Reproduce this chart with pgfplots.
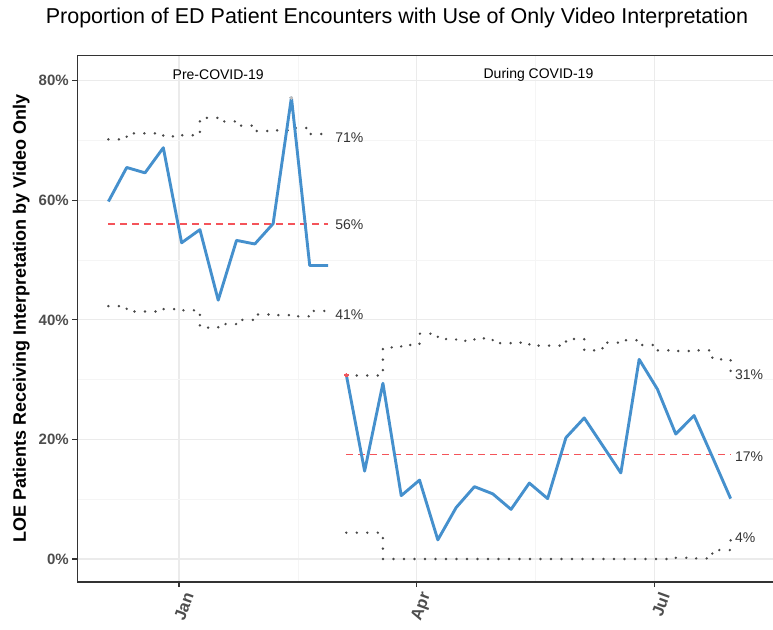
\documentclass[border=0pt]{standalone}
\usepackage{fontspec}
\setmainfont{Liberation Sans}
\usepackage{pgfplots}
\usepackage{pgfplotstable}
\pgfplotsset{compat=1.18}
\definecolor{qblue}{HTML}{4590CD}
\definecolor{qred}{RGB}{244,84,90}
\definecolor{limgrey}{HTML}{484848}
\definecolor{tickgrey}{HTML}{4D4D4D}
\definecolor{gridmaj}{HTML}{EBEBEB}
\definecolor{gridmin}{HTML}{F5F5F5}
\definecolor{axgrey}{HTML}{333333}

\pgfplotstableread{
d y ucl lcl
-27 59.8 70.2 42.3
-20 65.5 71.2 41.4
-13 64.6 71.2 41.4
-6 68.8 70.7 41.8
1 52.9 70.9 41.6
8 55.1 73.8 38.7
15 43.3 73.2 39.3
22 53.3 72.5 40.0
29 52.7 71.6 40.9
36 56.1 71.7 40.8
43 77.2 72.1 40.6
50 49.1 71.1 41.5
57 49.1 71.1 41.5
}\pre

\pgfplotstableread{
d y ucl lcl
64 30.8 30.7 4.4
71 14.7 30.7 4.4
78 29.4 35.4 0
85 10.6 35.8 0
92 13.2 37.7 0
99 3.2 36.8 0
106 8.6 36.5 0
113 12.1 36.9 0
120 10.9 36.1 0
127 8.3 36.2 0
134 12.7 35.7 0
141 10.1 35.7 0
148 20.3 36.8 0
155 23.6 34.9 0
162 19.0 36.2 0
169 14.4 36.6 0
176 33.4 35.8 0
183 28.4 34.9 0
190 20.9 34.8 0.2
197 24.0 34.9 0.1
204 17.1 33.4 1.5
211 10.1 30.9 4.0
}\covid

\pgfplotstableread{
d c
-27 56.1
57 56.1
}\precl

\pgfplotstableread{
d c
64 17.5
211 17.5
}\covidcl

\begin{document}
\begin{tikzpicture}
\begin{axis}[
  at={(0pt,0pt)}, anchor=south west,
  scale only axis, width=695.7pt, height=526.3pt,
  xmin=-38.9, xmax=227.2, ymin=-3.85, ymax=84.2,
  clip=false,
  axis x line*=bottom, axis y line*=left,
  axis line style={color=axgrey, line width=1.2pt},
  xtick={0,91,182}, xticklabels={Jan,Apr,Jul},
  minor xtick={45.5,136.5},
  ytick={0,20,40,60,80}, minor ytick={10,30,50,70},
  /pgf/number format/assume math mode=true,
  yticklabel={\pgfmathprintnumber{\tick}\%},
  grid=both,
  major grid style={gridmaj, line width=1.1pt},
  minor grid style={gridmin, line width=0.8pt},
  tick align=outside,
  major tick length=5pt, minor tick length=0pt,
  tick style={axgrey, line width=1.1pt},
  xticklabel style={xshift=11pt, yshift=-3pt, rotate=70, anchor=east, font=\fontsize{16.5}{16.5}\selectfont\bfseries, text=tickgrey},
  yticklabel style={font=\fontsize{15}{15}\selectfont\bfseries, text=tickgrey},
  ylabel={LOE Patients Receiving Interpretation by Video Only},
  every axis y label/.style={at={(axis description cs:-0.0805,0.5)}, rotate=90, anchor=center, font=\fontsize{18}{18}\selectfont\bfseries},
]
% top border
\draw[axgrey, line width=1.2pt] (rel axis cs:0,1) -- (rel axis cs:1,1);

% centre lines
\addplot[draw=qred, line width=1.7pt, dash pattern=on 7pt off 5pt, no marks] table[x=d,y=c] {\precl};
\addplot[draw=qred, line width=1.7pt, dash pattern=on 7pt off 5pt, no marks] table[x=d,y=c] {\covidcl};

% control limits (step)
\addplot[const plot, limgrey, line width=2.7pt, line cap=round, dash pattern=on 0pt off 10.5pt] table[x=d,y=ucl] {\pre};
\addplot[const plot, limgrey, line width=2.7pt, line cap=round, dash pattern=on 0pt off 10.5pt] table[x=d,y=lcl] {\pre};
\addplot[const plot, limgrey, line width=2.7pt, line cap=round, dash pattern=on 0pt off 10.5pt] table[x=d,y=ucl] {\covid};
\addplot[const plot, limgrey, line width=2.7pt, line cap=round, dash pattern=on 0pt off 10.5pt] table[x=d,y=lcl] {\covid};

% data
\addplot[qblue, line width=2.9pt, line join=round, no marks] table[x=d,y=y] {\pre};
\addplot[qblue, line width=2.9pt, line join=round, no marks] table[x=d,y=y] {\covid};
\addplot[only marks, mark=*, mark size=1.5pt, gray!50, mark options={line width=0pt}] coordinates {(43,77.2)};
\addplot[only marks, mark=*, mark size=1.8pt, qred, mark options={line width=0pt}] coordinates {(64,30.8)};

% labels
\begin{scope}[every node/.style={inner sep=0pt, anchor=west, font=\fontsize{14}{14}\selectfont, text=axgrey}]
\node at (axis cs:59.7,70.5) {71\%};
\node at (axis cs:59.7,56.0) {56\%};
\node at (axis cs:59.7,40.8) {41\%};
\node at (axis cs:212.6,30.8) {31\%};
\node at (axis cs:212.6,17.1) {17\%};
\node at (axis cs:212.6,3.5) {4\%};
\end{scope}
\node[inner sep=0pt, font=\fontsize{14}{14}\selectfont, text=black] at (axis cs:15,81.0) {Pre-COVID-19};
\node[inner sep=0pt, font=\fontsize{14}{14}\selectfont, text=black] at (axis cs:137.5,81.0) {During COVID-19};
\end{axis}
\node[inner sep=0pt, font=\fontsize{21.5}{21.5}\selectfont] at (319.7pt,564pt) {Proportion of ED Patient Encounters with Use of Only Video Interpretation};
\pgfresetboundingbox
\path[use as bounding box] (-77.3pt,-47pt) rectangle (695.7pt,582pt);
\end{tikzpicture}
\end{document}
